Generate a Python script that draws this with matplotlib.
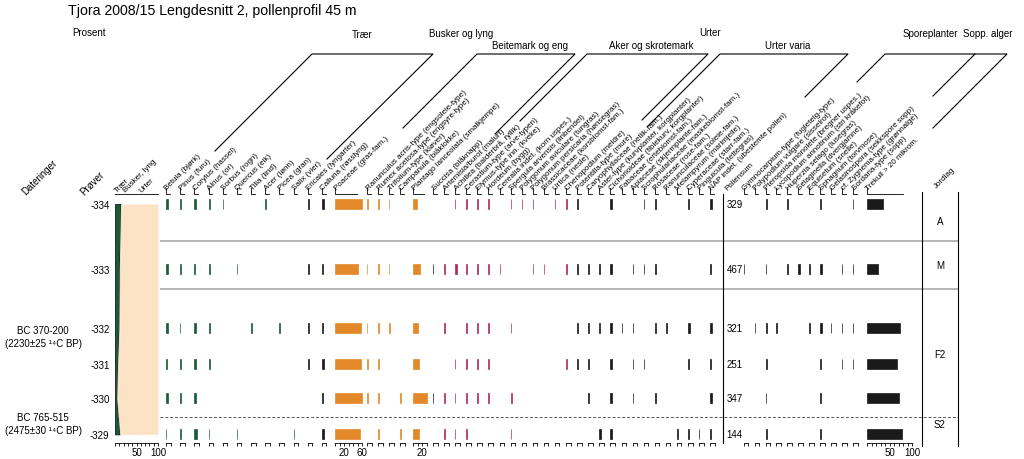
import matplotlib
matplotlib.use("Agg")
import matplotlib.pyplot as plt
from matplotlib.transforms import blended_transform_factory as blend
import numpy as np

plt.rcParams['font.family'] = ['Liberation Sans', 'DejaVu Sans']

W, H = 1024, 460

# ---- data -------------------------------------------------------------
samples = ["-334", "-333", "-332", "-331", "-330", "-329"]
depth_cm = [5, 23, 39.5, 49.5, 59, 69]
zone_bounds = [15.3, 28.5, 64.3]
zone_names = ["A", "M", "F2", "S2"]
zone_label_depth = [9.7, 21.9, 46.7, 66.1]
date_texts = ["BC 370-200\n(2230±25 ¹⁴C BP)", "BC 765-515\n(2475±30 ¹⁴C BP)"]
date_depth = [41.7, 66.0]
pollen_sum = [329, 467, 321, 251, 347, 144]
charcoal = [35, 25, 74, 67, 70, 78]
sum_trees = [13, 10, 9, 6, 4, 11]
sum_shrubs = [3, 3, 2.5, 3, 1.5, 2.5]

tree_names = ["Betula (bjørk)", "Pinus (furu)", "Corylus (hassel)", "Alnus (or)",
              "Sorbus (rogn)", "Quercus (eik)", "Tilia (lind)", "Acer (lønn)",
              "Picea (gran)", "Salix (vier)"]
tree_values = [[4, 4, 4, 2, 3.5, 1],
               [2.5, 1, 0.7, 1, 1, 1],
               [4, 2.5, 4, 4, 3, 6],
               [2.5, 4, 2.5, 4, 0, 2],
               [0.7, 0, 0, 0, 0, 0],
               [0, 0.7, 0, 0, 0, 0.7],
               [0, 0, 2, 0, 0, 0],
               [0.7, 0, 0, 0, 0, 0],
               [0, 0, 1, 0, 0, 0],
               [0, 0, 0, 0, 0, 1]]

shrub_names = ["Ericales (lyngarter)", "Calluna (røsslyng)"]
shrub_values = [[2.5, 3.5, 2.5, 2.5, 0, 0],
                [3.5, 2.5, 2, 3.5, 2.5, 3.5]]

poaceae_name = "Poaceae (gras-fam.)"
poaceae_values = [59, 52, 57, 57, 59, 56]
pasture_names = ["Ranunculus acris-type (engsoleie-type)", "Rumex acetosa-type (engsyre-type)",
                 "Trifolium-type (kløver)", "Campanula (blåklokke)"]
pasture_values = [[1.5, 1, 1, 1.5, 1.5, 0],
                  [1, 1, 2.5, 2.5, 2.5, 2.5],
                  [0.5, 0.5, 1.5, 0, 0, 0],
                  [0, 0, 0, 0, 1, 0.5]]
plantago_name = "Plantago lanceolata (smalkjempe)"
plantago_values = [9, 15, 11, 13, 31, 13]
succisa_name = "Succisa (blåknapp)"
succisa_values = [0, 0.5, 0, 0, 0.5, 0]

arable_names = ["Artemisia/burot (malurt)", "Achillea (balderbrå, ryllik)",
                "Cerastium-type (arve-typen)", "Elymus-type inn. (kveke)", "Hordeum (bygg)",
                "Cerealia indet. (korn uspes.)", "Spergula arvensis (linbendel)",
                "Polygonum aviculare (tungras)", "Polygonum persicaria (hønsegras)",
                "Brassicaceae (korsblomst-fam.)", "Urtica (nesle)", "Chenopodium (meldre)"]
arable_values = [[0, 1, 1, 0, 1, 1],
                 [0.7, 4, 0, 0.7, 0.7, 0.7],
                 [2, 2, 2, 2.5, 2.5, 2.5],
                 [2, 2, 1, 1.5, 1, 0],
                 [2, 2, 1, 1, 1, 0],
                 [0, 0.7, 0, 0, 0, 0],
                 [1.5, 0, 0.7, 0, 2, 0.7],
                 [1, 0, 0, 0, 0, 0],
                 [1, 0.7, 0, 0, 0, 0],
                 [0, 1, 0, 0, 0, 0],
                 [0.7, 0, 0, 0, 0, 0],
                 [2.5, 2.5, 0, 2.5, 0, 0]]

varia_names = ["Potentilla-type (mure)", "Caryophyllaceae (nellik-fam.)",
               "Aster-type (kurvplanter, korgplanter)", "Cichorioideae (fiblekurv, korgplanter)",
               "Fabaceae (erteblomst-fam.)", "Apiaceae (skjermplante-fam.)",
               "Scrophulariaceae (maskeblomst-fam.)", "Rosaceae (rose-fam.)",
               "Ranunculaceae (soleie-fam.)", "Melampyrum (marimjelle)",
               "Cyperaceae (starr-fam.)", "Pinguicula (tettegras)",
               "NAP indet. (ubestemte pollen)"]
varia_values = [[2.5, 2.5, 2.5, 2.5, 0, 0],
                [0, 0.7, 0.7, 0.7, 0.7, 0],
                [0, 2.5, 0.7, 0, 0, 3],
                [4, 4, 4, 4, 2.5, 3],
                [0, 0, 0.7, 0, 0, 0],
                [0, 0.7, 0.7, 0.7, 0.7, 0],
                [0.7, 0.7, 0, 0.7, 0, 0],
                [2.5, 2.5, 2.5, 0, 2.5, 0],
                [0, 0, 2.5, 0, 0, 0],
                [0, 0, 0, 0, 0, 2.5],
                [2.5, 0, 3.5, 2.5, 0, 2.5],
                [0, 0, 0, 0, 0, 0.7],
                [3, 0.7, 3, 0.7, 3.5, 0.7]]

spore_names = ["Gymnocarpium-type (fugletelg-type)", "Polypodium vulgare (sisselrot)",
               "Pteropsida monolete (bregner uspes.)", "Lycopodium annotinum (stri kråkefot)",
               "Huperzia selago (lusegras)", "Selaginella (dvergjamne)", "Equisetum (snelle)",
               "Sphagnum (torvmose)"]
spore_values = [[0, 1.5, 0, 0, 0, 0],
                [0, 0, 0.7, 0, 0, 0],
                [3, 0.7, 3, 2.5, 0.7, 2.5],
                [0, 0, 0.7, 0, 0, 0],
                [0.7, 0.7, 0, 0, 0, 0],
                [0, 3, 0, 0, 0, 0],
                [0, 0.7, 0.7, 0, 0, 0],
                [2.5, 3, 3, 2.5, 0.7, 2.5]]

fungi_names = ["Gelasinospora (sekkspore sopp)", "cf. Zygnema-type (grønnalge)", "Sordaria-type (sopp)"]
fungi_values = [[0, 0, 0.7, 0, 0, 0],
                [0, 0.7, 0.7, 0.7, 0, 0],
                [0.7, 0.7, 0.7, 0.7, 0, 0]]

# ---- layout (pixels) --------------------------------------------------
Y_TOP, Y_BOT = 195, 444
D_TOP = 5 + (Y_TOP - 205) / 3.6
D_BOT = 5 + (Y_BOT - 205) / 3.6
PX = 0.45          # pixels per percent
BAR_H = 2.8

GREEN = "#1b5a38"
ORANGE = "#e4892a"
CRIMSON = "#b02a55"
BLACK = "#1a1a1a"
LABEL_FS = 5.8

fig = plt.figure(figsize=(W / 100, H / 100), dpi=100)
ov = fig.add_axes([0, 0, 1, 1])
ov.set_xlim(0, W)
ov.set_ylim(H, 0)
ov.axis("off")


def rect(x0, x1, y0=Y_TOP, y1=Y_BOT):
    return [x0 / W, 1 - y1 / H, (x1 - x0) / W, (y1 - y0) / H]


def column(x0, w, values, color, name=None, ruler=10, ticks=None, ticklabels=None):
    ax = fig.add_axes(rect(x0, x0 + w))
    ax.patch.set_alpha(0)
    ax.set_xlim(0, w / PX)
    ax.set_ylim(D_BOT, D_TOP)
    v = np.array(values, dtype=float)
    d = np.array(depth_cm)
    m = v > 0
    ax.barh(d[m], v[m], height=BAR_H, color=color, edgecolor=color, linewidth=0.5)
    for s in ("left", "right", "top"):
        ax.spines[s].set_visible(False)
    ax.spines["bottom"].set_bounds(0, ruler)
    ax.spines["bottom"].set_linewidth(0.6)
    ax.set_yticks([])
    if ticks is None:
        ticks = [0, ruler]
    ax.set_xticks(ticks)
    if ticklabels is None:
        ticklabels = [""] * len(ticks)
    ax.set_xticklabels(ticklabels)
    ax.tick_params(axis="x", direction="out", length=2.5, width=0.6, labelsize=7, pad=0.5)
    tr = blend(ax.transData, ax.transAxes)
    top_len = max(ruler * 0.8, 8)
    ax.plot([0, 0, top_len], [1 + 6 / (Y_BOT - Y_TOP), 1, 1], transform=tr,
            clip_on=False, color="k", lw=0.6)
    if name:
        ov.text(x0 + 2.5, Y_TOP - 3, name, rotation=45, rotation_mode="anchor",
                ha="left", va="bottom", fontsize=LABEL_FS)
    return ax


# summary diagram
axs = fig.add_axes(rect(115, 158))
axs.set_xlim(0, 100)
axs.set_ylim(D_BOT, D_TOP)
t = np.array(sum_trees)
sh = t + np.array(sum_shrubs)
axs.fill_betweenx(depth_cm, 0, t, color=GREEN, edgecolor="black", lw=0.5)
axs.fill_betweenx(depth_cm, t, sh, color="#f3dcc0", lw=0)
axs.fill_betweenx(depth_cm, sh, 100, color="#fde3c6", lw=0)
for s in ("left", "right"):
    axs.spines[s].set_visible(False)
axs.spines["top"].set_linewidth(0.6)
axs.spines["bottom"].set_linewidth(0.6)
axs.set_xticks(range(0, 101, 10))
axs.set_xticklabels(["50" if v == 50 else "100" if v == 100 else "" for v in range(0, 101, 10)])
axs.tick_params(axis="x", direction="out", length=2.5, width=0.6, labelsize=7, pad=0.5)
axs.set_yticks(depth_cm)
axs.set_yticklabels(samples)
axs.tick_params(axis="y", length=0, labelsize=7, pad=4)
ytr = blend(axs.transAxes, axs.transData)
for txt, dd in zip(date_texts, date_depth):
    axs.text(-1.67, dd, txt, transform=ytr, ha="center", va="center", fontsize=7,
             linespacing=1.4)

# zone lines across the diagram
axz = fig.add_axes(rect(160, 958))
axz.set_ylim(D_BOT, D_TOP)
axz.axis("off")
axz.axhline(zone_bounds[0], color="#aaaaaa", lw=1.2)
axz.axhline(zone_bounds[1], color="#aaaaaa", lw=1.2)
axz.axhline(zone_bounds[2], color="#555555", lw=0.7, ls=(0, (3, 2)))

# trees + shrubs
for i, (n, v) in enumerate(zip(tree_names + shrub_names, tree_values + shrub_values)):
    col = GREEN if i < len(tree_names) else BLACK
    column(166 + 14.18 * i, 13.5, v, col, n)

column(335, 30, poaceae_values, ORANGE, poaceae_name, ruler=60,
       ticks=list(range(0, 61, 10)), ticklabels=["", "", "20", "", "", "", "60"])
for i, (n, v) in enumerate(zip(pasture_names, pasture_values)):
    column(367 + 11.1 * i, 10.5, v, ORANGE, n)
column(413, 17, plantago_values, ORANGE, plantago_name, ruler=30,
       ticks=[0, 10, 20, 30], ticklabels=["", "", "20", ""])

herb_names = [succisa_name] + arable_names + varia_names
herb_values = [succisa_values] + arable_values + varia_values
herb_colors = [BLACK] + [CRIMSON] * len(arable_names) + [BLACK] * len(varia_names)
for k, (n, v, c) in enumerate(zip(herb_names, herb_values, herb_colors)):
    column(433 + 11.09 * k, 10.5, v, c, n)

# pollen sum
axp = fig.add_axes(rect(723, 742))
axp.set_ylim(D_BOT, D_TOP)
axp.patch.set_alpha(0)
for s in ("right", "top", "bottom"):
    axp.spines[s].set_visible(False)
axp.spines["left"].set_linewidth(0.8)
axp.set_xticks([])
axp.set_yticks([])
ptr = blend(axp.transAxes, axp.transData)
for ps, dd in zip(pollen_sum, depth_cm):
    axp.text(0.2, dd, str(ps), transform=ptr, ha="left", va="center", fontsize=7)
ov.text(729, Y_TOP - 3, "Pollensum", rotation=45, rotation_mode="anchor",
        ha="left", va="bottom", fontsize=LABEL_FS)

for j, (n, v) in enumerate(zip(spore_names + fungi_names, spore_values + fungi_values)):
    column(743.7 + 10.93 * j, 10.3, v, BLACK, n)

column(867, 46, charcoal, BLACK, "Trekull > 20 mikrom.", ruler=100,
       ticks=list(range(0, 101, 10)),
       ticklabels=["50" if v == 50 else "100" if v == 100 else "" for v in range(0, 101, 10)])

# zone column
axj = fig.add_axes(rect(922, 958, 193, 447))
axj.set_ylim(5 + (447 - 205) / 3.6, 5 + (193 - 205) / 3.6)
axj.patch.set_alpha(0)
axj.spines["top"].set_visible(False)
axj.spines["bottom"].set_visible(False)
axj.set_xticks([])
axj.set_yticks([])
jtr = blend(axj.transAxes, axj.transData)
for zn, dd in zip(zone_names, zone_label_depth):
    axj.text(0.5, dd, zn, transform=jtr, ha="center", va="center", fontsize=7)
ov.text(938, 190, "Jordlag", rotation=45, rotation_mode="anchor", ha="left",
        va="bottom", fontsize=LABEL_FS)

# headings and group brackets
ov.text(68, 11, "Tjora 2008/15 Lengdesnitt 2, pollenprofil 45 m", fontsize=10.2, va="center")
ov.text(72, 33, "Prosent", fontsize=7, va="center")
ov.text(26, 196, "Dateringer", rotation=45, rotation_mode="anchor", fontsize=7)
ov.text(84, 196, "Prøver", rotation=45, rotation_mode="anchor", fontsize=7)
ov.text(117, 193, "Trær", rotation=45, rotation_mode="anchor", fontsize=LABEL_FS)
ov.text(126, 193, "Busker, lyng", rotation=45, rotation_mode="anchor", fontsize=LABEL_FS)
ov.text(141, 193, "Urter", rotation=45, rotation_mode="anchor", fontsize=LABEL_FS)

group_titles = [("Trær", 362, 35), ("Busker og lyng", 461, 34), ("Beitemark og eng", 530, 46),
                ("Aker og skrotemark", 651, 46), ("Urter", 710, 33), ("Urter varia", 788, 46),
                ("Sporeplanter", 930, 34)]
for txt, x, y in group_titles:
    ov.text(x, y, txt, fontsize=7, ha="center", va="center")
ov.text(963, 34, "Sopp. alger", fontsize=7, ha="left", va="center")

brackets = [
    [(215, 152), (312, 55), (433, 55), (327, 160)],
    [(403, 129), (477, 55), (575, 55), (495, 135)],
    [(520, 122), (587, 55), (708, 55), (642, 121)],
    [(648, 127), (720, 55), (848, 55), (805, 98)],
    [(857, 83), (885, 55), (975, 55), (933, 97)],
    [(975, 55), (1007, 55), (933, 129)],
]
for b in brackets:
    xs, ys = zip(*b)
    ov.plot(xs, ys, color="black", lw=0.8)

fig.savefig("out.png", dpi=100)
